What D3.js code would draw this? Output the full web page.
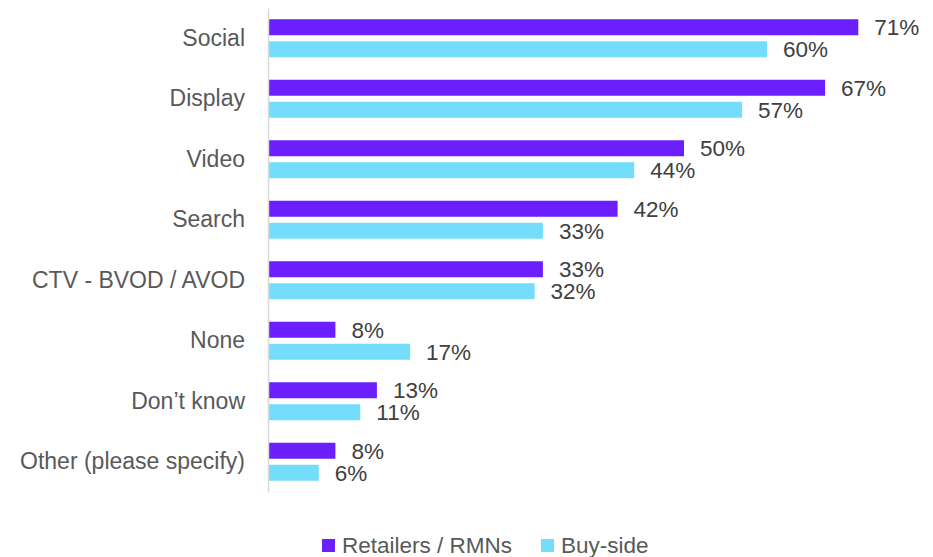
<!DOCTYPE html>
<html>
<head>
<meta charset="utf-8">
<script src="https://cdn.jsdelivr.net/npm/d3@7/dist/d3.min.js"></script>
<style>
  html, body { margin: 0; padding: 0; background: #ffffff; }
  svg { display: block; }
  text { font-family: "Liberation Sans", Arial, sans-serif; fill: #595959; }
</style>
</head>
<body>
<svg id="chart" width="933" height="557"></svg>
<script>
// Channels and shares (%) by respondent group
const categories = ["Social", "Display", "Video", "Search", "CTV - BVOD / AVOD", "None", "Don\u2019t know", "Other (please specify)"];
const retailers = [71, 67, 50, 42, 33, 8, 13, 8];
const buySide = [60, 57, 44, 33, 32, 17, 11, 6];
const seriesNames = ["Retailers / RMNs", "Buy-side"];
const seriesColors = ["#6a1ffc", "#74ddfb"];

const svg = d3.select("#chart");
const x0 = 269;
const fontFamily = "Liberation Sans, Arial, sans-serif";

const x = d3.scaleLinear().domain([0, 80]).range([x0, x0 + 80 * 8.3]);
const y = d3.scaleBand().domain(categories).range([8, 492]).padding(0);

const barH = 16;
const offsets = [-19, 3];
const series = [retailers, buySide];

// bars
series.forEach((vals, si) => {
  svg.append("g")
    .selectAll("rect")
    .data(categories)
    .join("rect")
    .attr("x", x(0))
    .attr("y", d => y(d) + y.bandwidth() / 2 + offsets[si])
    .attr("width", (d, i) => x(vals[i]) - x(0))
    .attr("height", barH)
    .attr("fill", seriesColors[si]);

  // value labels
  svg.append("g")
    .selectAll("text")
    .data(categories)
    .join("text")
    .attr("x", (d, i) => x(vals[i]) + 16)
    .attr("y", d => y(d) + y.bandwidth() / 2 + offsets[si] + barH / 2)
    .attr("dy", "0.36em")
    .attr("font-size", 22.5)
    .style("fill", "#404040")
    .text((d, i) => vals[i] + "%");
});

// vertical category axis
const yAxis = d3.axisLeft(y).tickSize(0).tickPadding(23);
const gAxis = svg.append("g")
  .attr("transform", `translate(${x0 - 1},0)`)
  .call(yAxis);
gAxis.select(".domain").attr("stroke", "#d9d9d9").attr("stroke-width", 1.5);
gAxis.selectAll("text")
  .attr("font-size", 23)
  .attr("fill", "#595959")
  .attr("font-family", fontFamily)
  .attr("dy", "0.32em");

// legend
const legendX = [322, 541];
const legend = svg.append("g");
seriesNames.forEach((name, i) => {
  legend.append("rect")
    .attr("x", legendX[i]).attr("y", 539)
    .attr("width", 13).attr("height", 13)
    .attr("fill", seriesColors[i]);
  legend.append("text")
    .attr("x", legendX[i] + 20).attr("y", 553)
    .attr("font-size", 22.5)
    .text(name);
});
</script>
</body>
</html>
